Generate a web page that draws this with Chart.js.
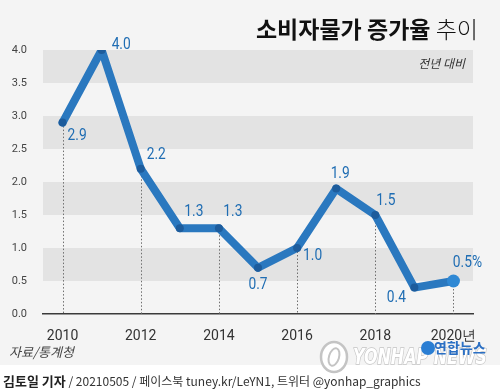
<!DOCTYPE html>
<html>
<head>
<meta charset="utf-8">
<script src="https://cdn.jsdelivr.net/npm/chart.js@4/dist/chart.umd.min.js"></script>
<style>
  body { margin: 0; background: #ffffff; }
  #chart { display: block; }
</style>
</head>
<body>
<canvas id="chart" width="500" height="390"></canvas>
<script>
const years = ['2010', '2011', '2012', '2013', '2014', '2015', '2016', '2017', '2018', '2019', '2020'];
const cpiGrowth = [2.9, 4.0, 2.2, 1.3, 1.3, 0.7, 1.0, 1.9, 1.5, 0.4, 0.5];
const valueLabels = ['2.9', '4.0', '2.2', '1.3', '1.3', '0.7', '1.0', '1.9', '1.5', '0.4', '0.5%'];
const xTickLabels = ['2010', '', '2012', '', '2014', '', '2016', '', '2018', '', '2020년'];
const yTickValues = [0, 0.5, 1.0, 1.5, 2.0, 2.5, 3.0, 3.5, 4.0];
const bandRanges = [[0.5, 1.0], [1.5, 2.0], [2.5, 3.0], [3.5, 4.0]];

// label placement relative to each point: [dx, dy, align]
const labelOffsets = [
    [5, 13, 'left'], [10, -5, 'left'], [6, -14, 'left'], [14, -16, 'center'],
    [14, -16, 'center'], [0, 17, 'center'], [6, 8, 'left'], [4, -15, 'center'],
    [1, -14, 'left'], [-18, 10, 'center'], [14, -18, 'center']
];

const numFont = '"Roboto", sans-serif';
const krFont = '"Noto Sans CJK KR", "Noto Sans", sans-serif';

document.addEventListener('DOMContentLoaded', function() {
    showChart();
});

// draws text squeezed horizontally, anchored like textAlign
function narrowText(ctx, text, x, y, squeeze) {
    ctx.save();
    ctx.translate(x, y);
    ctx.scale(squeeze, 1);
    ctx.fillText(text, 0, 0);
    ctx.restore();
}

const decorPlugin = {
    id: 'decor',
    beforeDraw(chart) {
        const ctx = chart.ctx;
        const area = chart.chartArea;
        const y = chart.scales.y;
        ctx.save();
        ctx.fillStyle = '#f4f4f4';
        ctx.fillRect(0, 0, 500, 365);
        ctx.fillStyle = '#ffffff';
        ctx.fillRect(0, 365, 500, 25);
        ctx.fillStyle = '#e3e3e3';
        bandRanges.forEach(function(b) {
            const top = y.getPixelForValue(b[1]);
            const bottom = y.getPixelForValue(b[0]);
            ctx.fillRect(area.left, top, area.right - area.left, bottom - top);
        });
        ctx.restore();
    },
    beforeDatasetsDraw(chart) {
        const ctx = chart.ctx;
        const meta = chart.getDatasetMeta(0);
        const bottom = chart.scales.y.getPixelForValue(0);
        ctx.save();
        ctx.strokeStyle = '#6f6f6f';
        ctx.lineWidth = 1;
        ctx.setLineDash([1.5, 2]);
        meta.data.forEach(function(pt, i) {
            if (i % 2 !== 0) return;
            const x = Math.round(pt.x) + 0.5;
            ctx.beginPath();
            ctx.moveTo(x, pt.y + (i === meta.data.length - 1 ? 8 : 0));
            ctx.lineTo(x, bottom);
            ctx.stroke();
        });
        ctx.restore();
    },
    afterDatasetsDraw(chart) {
        const ctx = chart.ctx;
        const meta = chart.getDatasetMeta(0);
        ctx.save();
        ctx.fillStyle = '#1f6db3';
        ctx.font = '16px ' + numFont;
        ctx.textBaseline = 'middle';
        meta.data.forEach(function(pt, i) {
            const off = labelOffsets[i];
            ctx.textAlign = off[2];
            narrowText(ctx, valueLabels[i], pt.x + off[0], pt.y + off[1], 0.86);
        });
        ctx.restore();
    },
    afterDraw(chart) {
        const ctx = chart.ctx;
        ctx.save();
        // title
        ctx.textBaseline = 'alphabetic';
        ctx.textAlign = 'right';
        ctx.fillStyle = '#111111';
        ctx.font = '300 23px ' + krFont;
        const lightPart = '추이';
        const lightW = ctx.measureText(lightPart).width;
        ctx.fillText(lightPart, 478, 38);
        ctx.font = 'bold 23px ' + krFont;
        ctx.fillText('소비자물가 증가율 ', 478 - lightW, 38);

        ctx.font = 'italic 12px ' + krFont;
        ctx.fillStyle = '#333333';
        ctx.textBaseline = 'middle';
        ctx.fillText('전년 대비', 465, 63);

        ctx.textAlign = 'left';
        ctx.font = 'italic 13px ' + krFont;
        ctx.fillStyle = '#444444';
        ctx.fillText('자료/통계청', 9, 352);

        // watermark
        ctx.font = 'italic bold 21px "DejaVu Sans", sans-serif';
        const wmW = ctx.measureText('YONHAP NEWS').width;
        ctx.save();
        ctx.translate(353, 359);
        ctx.scale(134 / wmW, 1);
        ctx.fillStyle = '#ffffff';
        ctx.strokeStyle = '#c4c4c4';
        ctx.lineWidth = 1.5;
        ctx.strokeText('YONHAP NEWS', 0, 0);
        ctx.fillText('YONHAP NEWS', 0, 0);
        ctx.restore();
        ctx.beginPath();
        ctx.ellipse(334, 357, 13, 15, 0, 0, Math.PI * 2);
        ctx.fillStyle = '#ffffff';
        ctx.strokeStyle = '#c4c4c4';
        ctx.fill();
        ctx.lineWidth = 2.5;
        ctx.stroke();
        ctx.beginPath();
        ctx.ellipse(334, 357, 5, 9, 0.3, 0, Math.PI * 2);
        ctx.lineWidth = 2;
        ctx.stroke();
        ctx.beginPath();
        ctx.arc(428, 348, 7, 0, Math.PI * 2);
        ctx.fillStyle = '#2a7ed3';
        ctx.fill();
        ctx.font = 'bold 14px ' + krFont;
        ctx.fillStyle = '#2a6fc4';
        ctx.fillText('연합뉴스', 434, 348);

        // footer
        ctx.fillStyle = '#222222';
        ctx.font = 'bold 13px ' + krFont;
        ctx.fillText('김토일 기자', 3, 381);
        const w = ctx.measureText('김토일 기자').width;
        ctx.font = '12px ' + krFont;
        ctx.fillStyle = '#333333';
        ctx.fillText(' / 20210505 / 페이스북 tuney.kr/LeYN1, 트위터 @yonhap_graphics', 3 + w, 381);
        ctx.restore();
    }
};

function showChart() {
    const canvasChart = document.getElementById('chart')?.getContext('2d');
    if (canvasChart) {
        const last = cpiGrowth.length - 1;
        new Chart(canvasChart, {
            type: 'line',
            data: {
                labels: years,
                datasets: [
                    {
                        label: '소비자물가 증가율',
                        data: cpiGrowth,
                        borderColor: '#2a78bf',
                        borderWidth: 8,
                        borderJoinStyle: 'round',
                        borderCapStyle: 'round',
                        tension: 0,
                        pointRadius: ctx => ctx.dataIndex === last ? 6.5 : 4,
                        pointBackgroundColor: ctx => ctx.dataIndex === last ? '#2f88d4' : '#1d5c9c',
                        pointBorderWidth: 0,
                        pointHoverRadius: 0
                    }
                ]
            },
            options: {
                responsive: false,
                animation: false,
                layout: {
                    padding: { top: 50, right: 27, bottom: 46, left: 0 }
                },
                plugins: {
                    legend: { display: false },
                    tooltip: { enabled: false }
                },
                scales: {
                    x: {
                        type: 'category',
                        offset: true,
                        grid: { display: false },
                        border: { display: true, color: '#3a3a3a', width: 1.5 },
                        ticks: {
                            autoSkip: false,
                            maxRotation: 0,
                            padding: 6,
                            color: '#333333',
                            font: { size: 14, family: numFont },
                            callback: function(value, index) {
                                return xTickLabels[index];
                            }
                        },
                        afterFit: function(scale) {
                            scale.height = 30;
                        }
                    },
                    y: {
                        min: 0,
                        max: 4,
                        grid: { display: false },
                        border: { display: false },
                        afterBuildTicks: function(scale) {
                            scale.ticks = yTickValues.map(v => ({ value: v }));
                        },
                        ticks: {
                            padding: 8,
                            color: '#444444',
                            font: { size: 11, family: numFont },
                            callback: function(value) {
                                return Number(value).toFixed(1);
                            }
                        },
                        afterFit: function(scale) {
                            scale.width = 43;
                        }
                    }
                }
            },
            plugins: [decorPlugin]
        });
    }
}
</script>
</body>
</html>
